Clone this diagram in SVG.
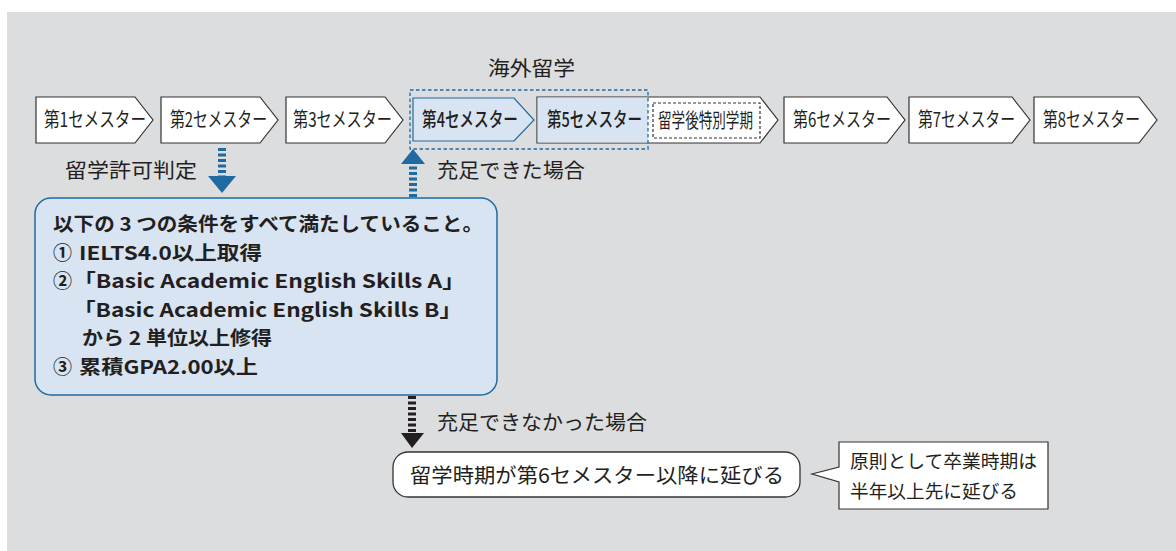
<svg xmlns="http://www.w3.org/2000/svg" width="1176" height="551" viewBox="0 0 1176 551">
<defs>
<style>
.bg{fill:#dcdddf}
.chev{fill:#ffffff;stroke:#333333;stroke-width:1.2}
.chevb{fill:#d9e4f3;stroke:#1f6aa0;stroke-width:1.2}
.t{font-family:"Noto Sans CJK JP","Noto Sans",sans-serif;fill:#231f20}
.sem{font-size:20px}
.semb{font-size:20px;font-weight:500}
.lbl{font-size:20.5px}
.cond{font-size:19px;font-weight:700}
</style>
</defs>
<rect class="bg" x="7" y="12" width="1169" height="539"/>

<g id="sem1"><polygon class="chev" points="36,97 135,97 153,120 135,143 36,143"/><text class="t sem" transform="translate(44,127) scale(0.75,1)" textLength="136" lengthAdjust="spacingAndGlyphs">第1セメスター</text></g>
<g id="sem2"><polygon class="chev" points="161,97 260,97 278,120 260,143 161,143"/><text class="t sem" transform="translate(170,127) scale(0.75,1)" textLength="129.3" lengthAdjust="spacingAndGlyphs">第2セメスター</text></g>
<g id="sem3"><polygon class="chev" points="286,97 385,97 403,120 385,143 286,143"/><text class="t sem" transform="translate(293,127) scale(0.75,1)" textLength="132" lengthAdjust="spacingAndGlyphs">第3セメスター</text></g>
<g id="sem4"><polygon class="chevb" points="413,98 514,98 534,120 514,141 413,141"/><text class="t semb" transform="translate(422,126.5) scale(0.75,1)" textLength="128" lengthAdjust="spacingAndGlyphs">第4セメスター</text></g>
<g id="sem5"><polygon class="chev" points="537,97 760,97 778,120 760,143 537,143"/><rect x="537.6" y="97.6" width="110.4" height="44.8" fill="#d9e4f3"/><text class="t semb" transform="translate(547,126.5) scale(0.75,1)" textLength="126.7" lengthAdjust="spacingAndGlyphs">第5セメスター</text></g>
<g id="special"><rect x="653" y="103" width="107" height="35" fill="none" stroke="#333333" stroke-width="1.2" stroke-dasharray="3 2"/><text class="t sem" transform="translate(658,127.5) scale(0.7,1)" textLength="135.7" lengthAdjust="spacingAndGlyphs">留学後特別学期</text></g>
<g id="sem6"><polygon class="chev" points="784,97 887,97 905,120 887,143 784,143"/><text class="t sem" transform="translate(793,127) scale(0.75,1)" textLength="130.7" lengthAdjust="spacingAndGlyphs">第6セメスター</text></g>
<g id="sem7"><polygon class="chev" points="909,97 1012,97 1030,120 1012,143 909,143"/><text class="t sem" transform="translate(918,127) scale(0.75,1)" textLength="129.3" lengthAdjust="spacingAndGlyphs">第7セメスター</text></g>
<g id="sem8"><polygon class="chev" points="1034,97 1139,97 1157,120 1139,143 1034,143"/><text class="t sem" transform="translate(1043,127) scale(0.75,1)" textLength="129.3" lengthAdjust="spacingAndGlyphs">第8セメスター</text></g>

<g id="abroad"><rect x="410" y="90" width="238" height="59" fill="none" stroke="#1f6aa0" stroke-width="1.3" stroke-dasharray="3.5 2.5"/><text class="t lbl" x="488" y="76" textLength="87" lengthAdjust="spacingAndGlyphs">海外留学</text></g>

<g id="connectors">
<line x1="222" y1="148" x2="222" y2="176" stroke="#1f6aa0" stroke-width="8" stroke-dasharray="3 2.5"/>
<polygon points="208,176 236,176 222,193" fill="#1f6aa0"/>
<line x1="413" y1="197" x2="413" y2="164" stroke="#1f6aa0" stroke-width="8" stroke-dasharray="3 2.5"/>
<polygon points="401,164 425,164 413,149" fill="#1f6aa0"/>
<line x1="412" y1="396" x2="412" y2="432" stroke="#231f20" stroke-width="8" stroke-dasharray="3 2.5"/>
<polygon points="401,433 424,433 412,448" fill="#231f20"/>
</g>

<g id="label-permit"><text class="t lbl" x="65" y="178" textLength="132" lengthAdjust="spacingAndGlyphs">留学許可判定</text></g>
<g id="label-ok"><text class="t lbl" x="437" y="178" textLength="148" lengthAdjust="spacingAndGlyphs">充足できた場合</text></g>
<g id="label-ng"><text class="t lbl" x="437" y="430" textLength="210" lengthAdjust="spacingAndGlyphs">充足できなかった場合</text></g>

<g id="conditions">
<rect x="35" y="198" width="462" height="197" rx="16" fill="#d9e4f3" stroke="#1f6aa0" stroke-width="1.5"/>
<text class="t cond" x="53" y="231" textLength="430" lengthAdjust="spacingAndGlyphs">以下の 3 つの条件をすべて満たしていること。</text>
<text class="t cond" x="53" y="259.5">①</text><text class="t cond" x="79" y="259.5" textLength="183" lengthAdjust="spacingAndGlyphs">IELTS4.0以上取得</text>
<text class="t cond" x="53" y="288">②</text><text class="t cond" x="73" y="288" textLength="392" lengthAdjust="spacingAndGlyphs">「Basic Academic English Skills A」</text>
<text class="t cond" x="73" y="316.5" textLength="389" lengthAdjust="spacingAndGlyphs">「Basic Academic English Skills B」</text>
<text class="t cond" x="82" y="345" textLength="190" lengthAdjust="spacingAndGlyphs">から 2 単位以上修得</text>
<text class="t cond" x="53" y="373.5">③</text><text class="t cond" x="79" y="373.5" textLength="179" lengthAdjust="spacingAndGlyphs">累積GPA2.00以上</text>
</g>

<g id="result">
<rect x="393" y="452" width="407" height="45" rx="15" fill="#ffffff" stroke="#333333" stroke-width="1.3"/>
<text class="t lbl" x="410" y="483" textLength="374" lengthAdjust="spacingAndGlyphs">留学時期が第6セメスター以降に延びる</text>
</g>

<g id="note">
<path d="M839,442 H1048 V509 H839 V482 L812,474 L839,467 Z" fill="#ffffff" stroke="#333333" stroke-width="1.2"/>
<text class="t" font-size="18.5" x="850" y="468" textLength="187" lengthAdjust="spacingAndGlyphs">原則として卒業時期は</text>
<text class="t" font-size="18.5" x="850" y="498" textLength="168" lengthAdjust="spacingAndGlyphs">半年以上先に延びる</text>
</g>
</svg>
